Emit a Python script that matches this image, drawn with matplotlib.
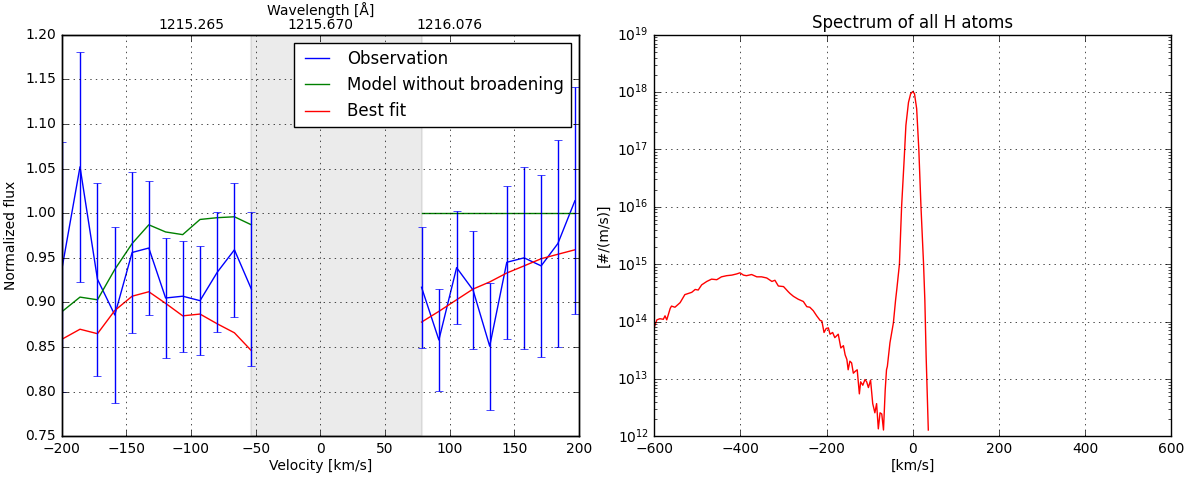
import numpy as np
import matplotlib
matplotlib.use("Agg")
import matplotlib.pyplot as plt

# --- left panel: Lyman-alpha fit ---
v_left = [-199.5, -185.8, -172.3, -158.9, -145.5, -132.6, -119.6, -106.4, -93.0, -79.6, -66.4, -53.3]
obs_left = [0.940, 1.052, 0.926, 0.886, 0.956, 0.961, 0.905, 0.907, 0.902, 0.934, 0.959, 0.915]
err_left = [0.140, 0.129, 0.108, 0.099, 0.090, 0.075, 0.067, 0.062, 0.061, 0.067, 0.075, 0.086]
model_left = [0.890, 0.906, 0.903, 0.937, 0.966, 0.987, 0.979, 0.976, 0.993, 0.995, 0.996, 0.987]
fit_left = [0.859, 0.870, 0.865, 0.891, 0.907, 0.912, 0.899, 0.885, 0.887, 0.876, 0.866, 0.846]

v_right = [78.3, 91.7, 105.4, 118.1, 131.0, 144.2, 157.6, 170.8, 183.7, 196.9]
obs_right = [0.917, 0.858, 0.939, 0.914, 0.851, 0.945, 0.950, 0.941, 0.966, 1.014]
err_right = [0.068, 0.057, 0.063, 0.066, 0.071, 0.086, 0.102, 0.102, 0.116, 0.127]
model_right = [1.0, 1.0, 1.0, 1.0, 1.0, 1.0, 1.0, 1.0, 1.0, 1.0]
fit_right = [0.878, 0.890, 0.903, 0.915, 0.923, 0.933, 0.941, 0.949, 0.954, 0.959]

wl_ticks = [-100, 0, 100]
wl_labels = ["1215.265", "1215.670", "1216.076"]

# --- right panel: spectrum of all H atoms (log10 of #/(m/s)) ---
spec_v = [-600, -594, -587, -579, -575, -571, -563, -560, -552, -540, -529, -521, -513, -505,
          -498, -490, -478, -467, -455, -444, -432, -420, -409, -401, -393, -386, -374, -362,
          -351, -339, -327, -320, -312, -300, -289, -285, -277, -266, -254, -246, -239, -231,
          -223, -215, -211, -206, -201, -196, -192, -186, -181, -177, -173, -167, -161, -157,
          -153, -150, -146, -142, -138, -134, -129, -124, -121, -116, -111, -107, -103, -98,
          -93, -88, -84, -80, -76, -72, -68, -64, -61, -59, -53, -45, -40, -37, -31, -26,
          -20, -16, -10, -5, 0, 4, 9, 14, 19, 25, 28, 31, 36]
spec_log = [13.90, 14.03, 14.05, 14.04, 14.10, 14.03, 14.23, 14.27, 14.25, 14.33, 14.47, 14.49, 14.51, 14.56,
            14.55, 14.64, 14.70, 14.74, 14.73, 14.78, 14.80, 14.81, 14.83, 14.85, 14.81, 14.80, 14.82, 14.78,
            14.78, 14.76, 14.70, 14.72, 14.62, 14.61, 14.52, 14.49, 14.44, 14.39, 14.35, 14.26, 14.25, 14.19,
            14.10, 14.02, 14.01, 13.81, 13.88, 13.89, 13.78, 13.81, 13.72, 13.75, 13.78, 13.54, 13.58, 13.42,
            13.34, 13.16, 13.31, 13.28, 13.10, 13.13, 13.16, 12.74, 12.95, 12.89, 12.99, 12.95, 12.85, 12.98,
            12.57, 12.41, 12.57, 12.13, 12.41, 12.39, 12.11, 12.81, 13.16, 13.22, 13.63, 13.98, 14.37, 14.57, 15.0, 16.0,
            16.83, 17.42, 17.82, 17.97, 18.01, 17.97, 17.71, 17.0, 16.0, 15.0, 14.37, 13.39, 12.11]

plt.style.use('classic')
plt.rcParams['font.size'] = 10
plt.rcParams['legend.fontsize'] = 12
plt.rcParams['axes.titlesize'] = 12
fig = plt.figure(figsize=(11.9, 4.79), dpi=100, facecolor='white')

ax1 = fig.add_axes([0.0518, 0.0891, 0.4347, 0.8384])
ax1.axvspan(v_left[-1], v_right[0], color='k', alpha=0.08, lw=1.5)
ax1.plot(v_left, obs_left, 'b-', label='Observation')
ax1.plot(v_left, model_left, 'g-', label='Model without broadening')
ax1.plot(v_left, fit_left, 'r-', label='Best fit')
ax1.plot(v_right, obs_right, 'b-')
ax1.plot(v_right, model_right, 'g-')
ax1.plot(v_right, fit_right, 'r-')
ax1.errorbar(v_left, obs_left, yerr=err_left, fmt='none', ecolor='b', capsize=3)
ax1.errorbar(v_right, obs_right, yerr=err_right, fmt='none', ecolor='b', capsize=3)
ax1.set_xlim(-200, 200)
ax1.set_ylim(0.75, 1.20)
ax1.set_yticks(np.arange(0.75, 1.2001, 0.05))
ax1.yaxis.set_major_formatter(matplotlib.ticker.FormatStrFormatter('%.2f'))
ax1.set_xlabel('Velocity [km/s]', labelpad=2)
ax1.set_ylabel('Normalized flux')
ax1.grid(True)
ax1.legend(loc='upper right')

ax1t = ax1.twiny()
ax1t.set_xlim(ax1.get_xlim())
ax1t.set_xticks(wl_ticks)
ax1t.set_xticklabels(wl_labels)
ax1t.tick_params(axis='x', pad=2)
ax1t.set_xlabel('Wavelength [Å]', labelpad=2)

ax2 = fig.add_axes([0.5498, 0.0891, 0.4345, 0.8384])
ax2.semilogy(spec_v, 10 ** np.array(spec_log), 'r-')
ax2.set_xlim(-600, 600)
ax2.set_ylim(1e12, 1e19)
ax2.set_xlabel('[km/s]', labelpad=2)
ax2.set_ylabel('[#/(m/s)]')
ax2.set_title('Spectrum of all H atoms')
ax2.grid(True)

fig.savefig('out.png', dpi=100, facecolor='white')
